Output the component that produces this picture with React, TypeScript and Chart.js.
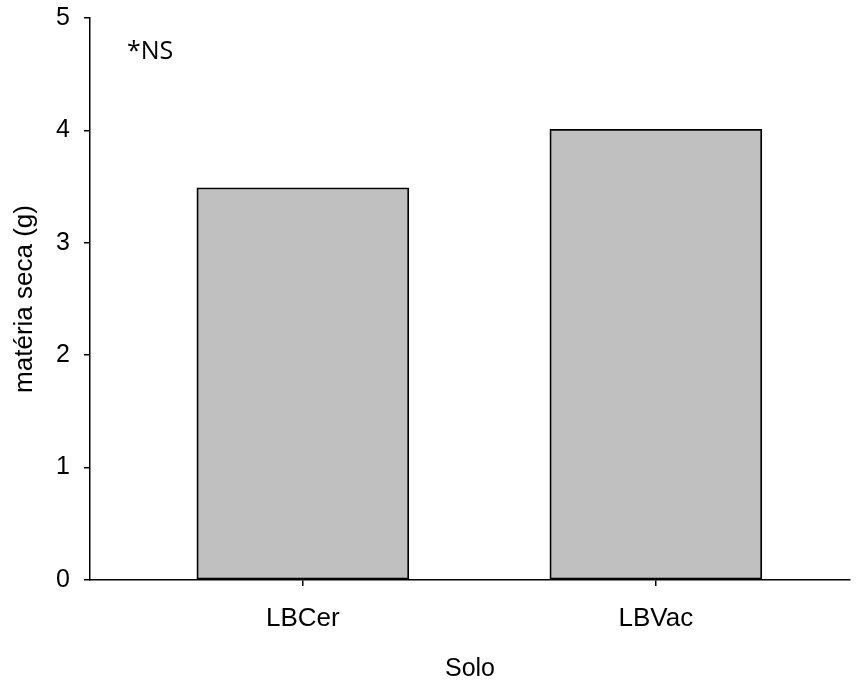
import React, { useEffect, useRef } from "react";
import { Chart, registerables } from "chart.js";

Chart.register(...registerables);

const categories = ["LBCer", "LBVac"];
const positions = [1, 2];
const values = [3.49, 4.01];
const yTicks = [0, 1, 2, 3, 4, 5];
const annotationText = "*NS";

const nsPlugin = {
  id: "nsText",
  afterDraw(chart: any) {
    const { ctx, chartArea } = chart;
    ctx.save();
    ctx.font = '25px "Open Sans", "Noto Sans", sans-serif';
    ctx.fillStyle = "#000";
    ctx.textAlign = "left";
    ctx.textBaseline = "middle";
    ctx.fillText(annotationText, chartArea.left + 37, chartArea.top + 34);
    ctx.restore();
  },
};

export default function App() {
  const ref = useRef<HTMLCanvasElement | null>(null);
  useEffect(() => {
    if (!ref.current) return;
    const font = "'Liberation Sans', Arial, sans-serif";
    const chart = new Chart(ref.current, {
      type: "bar",
      data: {
        datasets: [
          {
            data: positions.map((p, i) => ({ x: p, y: values[i] })),
            backgroundColor: "#c0c0c0",
            borderColor: "#000",
            borderWidth: 1.8,
            borderSkipped: false,
            barThickness: 212,
          },
        ],
      },
      options: {
        animation: false,
        responsive: false,
        maintainAspectRatio: false,
        layout: { padding: { top: 18, right: 6, left: 0, bottom: 0 } },
        plugins: { legend: { display: false }, tooltip: { enabled: false } },
        scales: {
          x: {
            type: "linear",
            offset: false,
            min: 0.397,
            max: 2.55,
            afterBuildTicks: (s: any) => {
              s.ticks = positions.map((v) => ({ value: v }));
            },
            afterFit: (s: any) => {
              s.height = 100;
              s.paddingLeft = 0;
              s.paddingRight = 0;
            },
            ticks: {
              color: "#000",
              font: { family: font, size: 26 },
              padding: 17,
              maxRotation: 0,
              autoSkip: false,
              callback: (v: any) => {
                const i = positions.indexOf(Number(v));
                return i >= 0 ? categories[i] : "";
              },
            },
            grid: { offset: false, drawOnChartArea: false, drawTicks: true, tickLength: 6, color: "#000", lineWidth: 1.5 },
            border: { display: true, color: "#000", width: 1.5 },
            title: {
              display: true,
              text: "Solo",
              color: "#000",
              font: { family: font, size: 25 },
              padding: { top: 18, bottom: -4 },
            },
          },
          y: {
            min: 0,
            max: 5,
            afterBuildTicks: (s: any) => {
              s.ticks = yTicks.map((v) => ({ value: v }));
            },
            afterFit: (s: any) => {
              s.width = 90;
              s.paddingTop = 0;
              s.paddingBottom = 0;
            },
            ticks: {
              color: "#000",
              font: { family: font, size: 25 },
              padding: 14,
            },
            grid: { drawOnChartArea: false, drawTicks: true, tickLength: 6, color: "#000", lineWidth: 1.5 },
            border: { display: true, color: "#000", width: 1.5 },
            title: {
              display: true,
              text: "matéria seca (g)",
              color: "#000",
              font: { family: font, size: 26 },
              padding: { top: 9, bottom: 0 },
            },
          },
        },
      },
      plugins: [nsPlugin],
    } as any);
    return () => chart.destroy();
  }, []);
  return (
    <div style={{ position: "fixed", left: 0, top: 0, width: 856, height: 680, background: "#fff" }}>
      <canvas ref={ref} width={856} height={680} style={{ width: 856, height: 680 }} />
    </div>
  );
}
